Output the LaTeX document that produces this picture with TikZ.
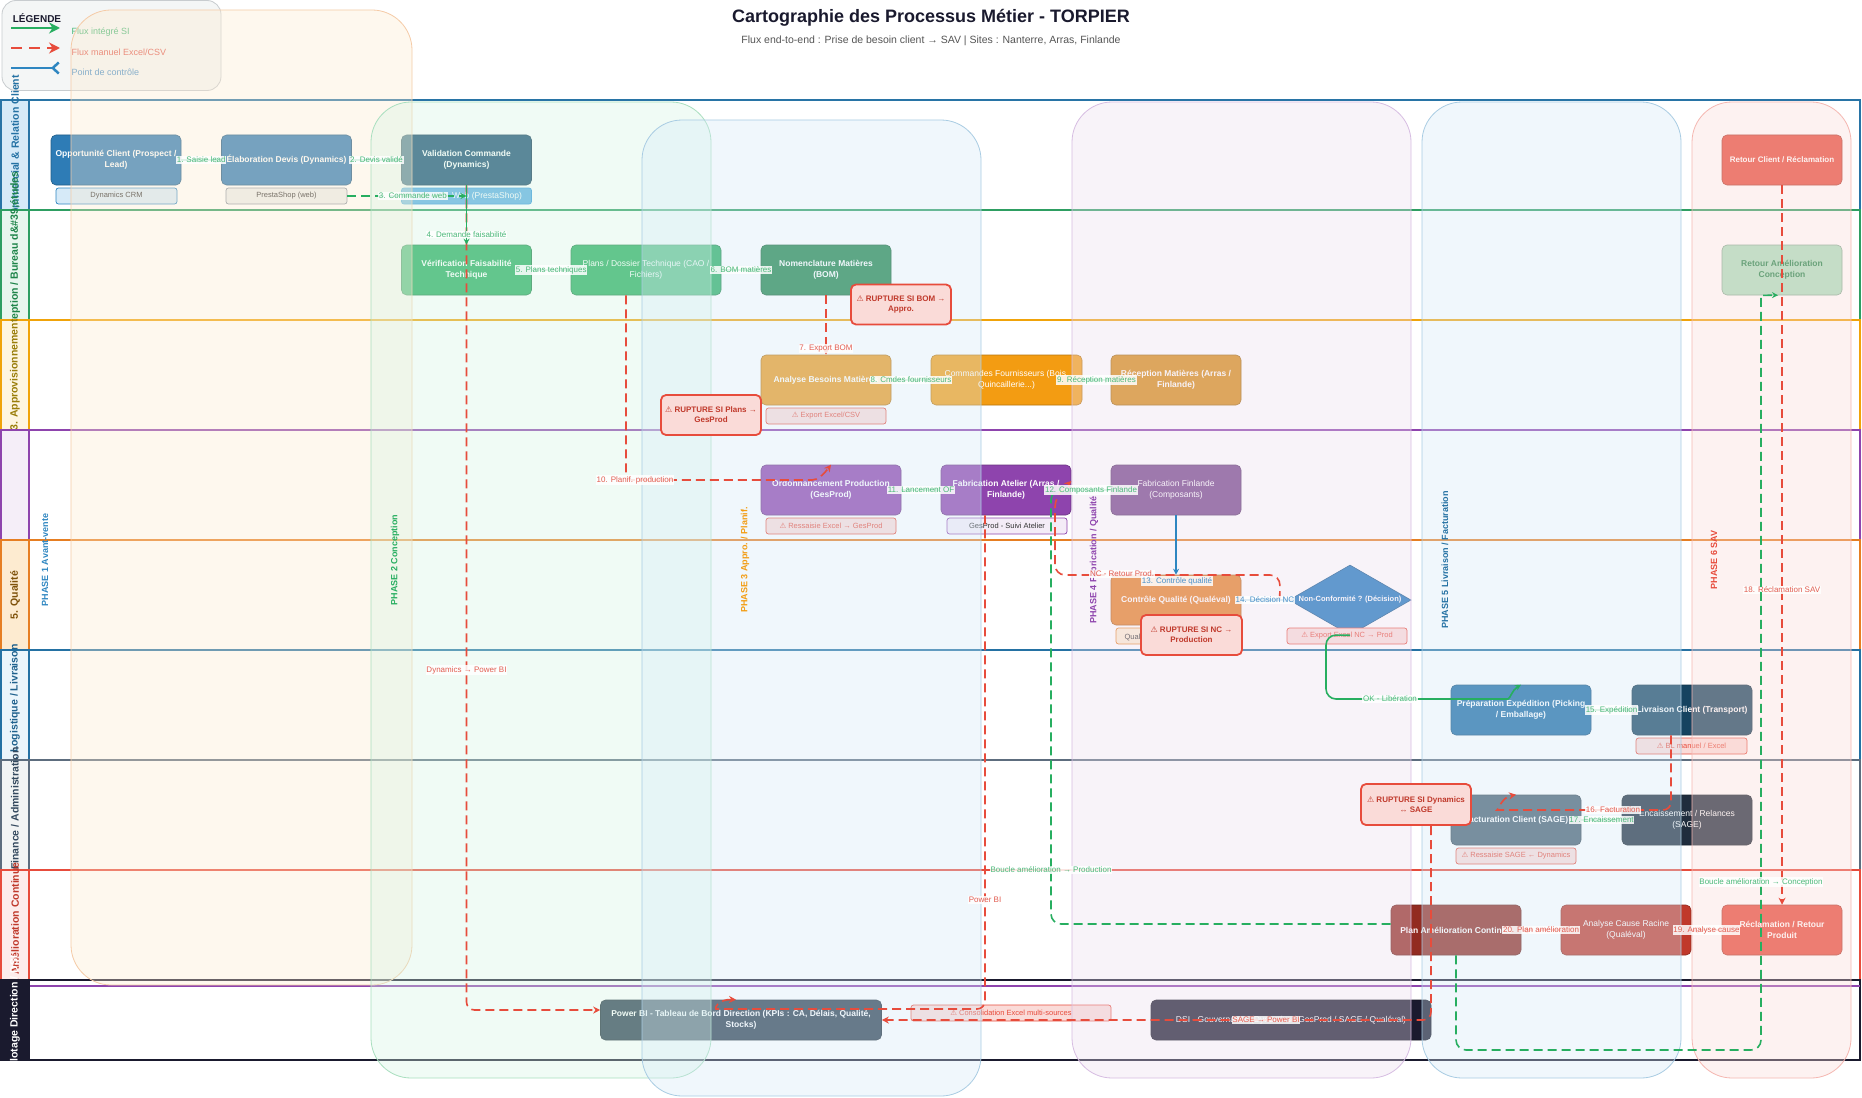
\documentclass[tikz,border=0pt]{standalone}
\usepackage{fontspec}
\setmainfont{Liberation Sans}
\newfontfamily\WarnFont{DejaVu Sans}
\usetikzlibrary{arrows.meta,calc,shapes.geometric}
\newcommand{\WarnSym}{{\WarnFont ⚠}}
\newcommand{\FSnode}{\fontsize{8.5}{10.5}\selectfont\bfseries}
\newcommand{\FSnoder}{\fontsize{8.5}{10.5}\selectfont}
\newcommand{\FSsys}{\fontsize{7.5}{9}\selectfont}
\newcommand{\FSlab}{\fontsize{8}{9.5}\selectfont}
\newcommand{\FSrup}{\fontsize{8}{10}\selectfont\bfseries}
\newcommand{\FSlane}{\fontsize{10.5}{12}\selectfont\bfseries}
\newcommand{\FSphase}{\fontsize{9}{11}\selectfont\bfseries}

\definecolor{cGreen}{HTML}{27AE60}
\definecolor{cRed}{HTML}{E74C3C}
\definecolor{cBlue}{HTML}{2E86C1}
\definecolor{cGreenL}{HTML}{4CB97A}
\definecolor{cRedL}{HTML}{E25D51}
\definecolor{cBlueL}{HTML}{4A90C8}
\definecolor{cDark}{HTML}{1A1A2E}
\definecolor{cGray}{HTML}{555555}
\definecolor{cRupF}{HTML}{FADBD8}
\definecolor{cRupT}{HTML}{C0392B}
\definecolor{cLegF}{HTML}{F4F6F6}
\definecolor{cLegB}{HTML}{C8CCCF}
\definecolor{cTxt}{HTML}{333333}

\definecolor{L1}{HTML}{2874A6}\definecolor{T1}{HTML}{D6EAF8}\definecolor{X1}{HTML}{2471A3}
\definecolor{L2}{HTML}{2E9E62}\definecolor{T2}{HTML}{E8F6EE}\definecolor{X2}{HTML}{1E8449}
\definecolor{L3}{HTML}{F0A30A}\definecolor{T3}{HTML}{FEF5E1}\definecolor{X3}{HTML}{9A7D0A}
\definecolor{L4}{HTML}{8E44AD}\definecolor{T4}{HTML}{F5EEF8}\definecolor{X4}{HTML}{8E44AD}
\definecolor{L5}{HTML}{E67E22}\definecolor{T5}{HTML}{FDEBD0}\definecolor{X5}{HTML}{7E5109}
\definecolor{L6}{HTML}{2471A3}\definecolor{T6}{HTML}{EBF5FB}\definecolor{X6}{HTML}{1F618D}
\definecolor{L7}{HTML}{5D6D7E}\definecolor{T7}{HTML}{F2F4F4}\definecolor{X7}{HTML}{34495E}
\definecolor{L8}{HTML}{E74C3C}\definecolor{T8}{HTML}{FDEDEC}\definecolor{X8}{HTML}{C0392B}
\definecolor{L9}{HTML}{1A1A2E}\definecolor{T9}{HTML}{1A1A2E}\definecolor{X9}{HTML}{FFFFFF}

\definecolor{tP1}{HTML}{FDEBD0}\definecolor{sP1}{HTML}{F5CBA7}
\definecolor{tP2}{HTML}{D5F5E3}\definecolor{sP2}{HTML}{A9DFBF}
\definecolor{tP3}{HTML}{D6EAF8}\definecolor{sP3}{HTML}{A9CCE3}
\definecolor{tP4}{HTML}{EBDEF0}\definecolor{sP4}{HTML}{D7BDE2}
\definecolor{tP5}{HTML}{D6EAF8}\definecolor{sP5}{HTML}{A9CCE3}
\definecolor{tP6}{HTML}{FADBD8}\definecolor{sP6}{HTML}{F5B7B1}

\definecolor{nOpp}{HTML}{2E7CB6}
\definecolor{nVal}{HTML}{1B4F72}
\definecolor{nVer}{HTML}{27AE60}
\definecolor{nPla}{HTML}{27AE60}
\definecolor{nBom}{HTML}{1E8449}
\definecolor{nAna}{HTML}{EB9A1E}
\definecolor{nCmd}{HTML}{F39C12}
\definecolor{nRec}{HTML}{D68910}
\definecolor{nOrd}{HTML}{8E44AD}
\definecolor{nFab}{HTML}{8E44AD}
\definecolor{nFin}{HTML}{76448A}
\definecolor{nCtl}{HTML}{E67E22}
\definecolor{nNC}{HTML}{1A75BC}
\definecolor{nPre}{HTML}{1A6AA5}
\definecolor{nLiv}{HTML}{154360}
\definecolor{nFac}{HTML}{475F70}
\definecolor{nEnc}{HTML}{1F2D3D}
\definecolor{nPlan}{HTML}{922B21}
\definecolor{nCau}{HTML}{C0392B}
\definecolor{nRecl}{HTML}{E74C3C}
\definecolor{nRetC}{HTML}{E74C3C}
\definecolor{nRetA}{HTML}{A9DFBF}
\definecolor{nPbi}{HTML}{2C3E50}
\definecolor{nDsi}{HTML}{1A1A2E}

\definecolor{sbDyn}{HTML}{D6EAF8}
\definecolor{sbPre}{HTML}{EAEDED}
\definecolor{sbPreB}{HTML}{85929E}
\definecolor{sbWeb}{HTML}{5DADE2}
\definecolor{sbWebB}{HTML}{3498DB}
\definecolor{sbGes}{HTML}{F4ECF7}
\definecolor{sbQua}{HTML}{FDEBD0}

\tikzset{
  procbox/.style={rectangle, rounded corners=5pt, inner sep=0pt, fill=#1, draw=#1!75!black, line width=0.6pt},
  ptxt/.style={text=white, font=\FSnode, align=center, inner sep=0pt},
  ptxtr/.style={text=white, font=\FSnoder, align=center, inner sep=0pt},
  ptxts/.style={text=white, font=\fontsize{8}{10}\selectfont\bfseries, align=center, inner sep=0pt},
  ptxtg/.style={text=X2, font=\FSnode, align=center, inner sep=0pt},
  sysbox/.style 2 args={rectangle, rounded corners=2.5pt, minimum width=120pt, minimum height=16pt, inner sep=0pt, fill=#1, draw=#2, line width=0.7pt, font=\FSsys, text=cTxt},
  warnbox/.style={rectangle, rounded corners=2.5pt, minimum width=120pt, minimum height=16pt, inner sep=0pt, fill=cRupF, draw=cRed, line width=0.7pt, font=\FSsys, text=cRed},
  ruptbox/.style={rectangle, rounded corners=5pt, minimum width=100pt, minimum height=40pt, inner sep=1pt, fill=cRupF, draw=cRed, line width=1.8pt, font=\FSrup, text=cRupT, align=center},
  phasebox/.style 2 args={rounded corners=40pt, fill=#1, fill opacity=0.35, draw=#2, line width=0.8pt},
  phlab/.style={rotate=90, font=\FSphase},
  lab/.style={font=\FSlab, fill=white, fill opacity=0.85, text opacity=1, inner sep=0.8pt},
  intflow/.style={draw=cGreen, line width=1.6pt, -{Stealth[length=6pt,width=6pt]}},
  manflow/.style={draw=cRed, line width=1.6pt, dash pattern=on 9pt off 5pt, -{Stealth[length=7pt,width=7pt]}},
  ctrlflow/.style={draw=cBlue, line width=1.6pt, -{Stealth[length=6pt,width=6pt]}},
}

\newcommand{\ProcNode}[8]{%
  \node[procbox=#6, minimum width=#4pt, minimum height=#5pt] (#1) at (#2,#3) {};
  \node[#7] (#1-t) at (#1.center) {#8};}
\newcommand{\LaneRow}[7]{%
  \draw[line width=1.8pt, draw=#4, fill=white] (1,#2) rectangle (1860,#3);
  \draw[line width=1.8pt, draw=#4, fill=#5] (1,#2) rectangle (29,#3);
  \node[rotate=90, font=\FSlane, text=#6] (#1) at (15,{(#2+#3)/2}) {#7};}

\begin{document}
\begin{tikzpicture}[x=1pt,y=-1pt]
\useasboundingbox (0,0) rectangle (1862,1097);
\fill[white] (0,0) rectangle (1862,1097);

% ---------- legend
\node[draw=cLegB, fill=cLegF, rounded corners=14pt, minimum width=219pt, minimum height=90pt, inner sep=0pt, line width=0.8pt] (legbox) at (111.5,45.5) {};
\node[font=\fontsize{10}{12}\selectfont\bfseries, text=cDark] (legtitle) at (37,18) {LÉGENDE};
\coordinate (lgA1) at (11,28); \coordinate (lgB1) at (60,28);
\draw[cGreen, line width=2.5pt, -{Stealth[length=11pt,width=11pt]}] (lgA1) -- (lgB1);
\node[anchor=west, font=\fontsize{9}{11}\selectfont, text=cGreenL] (legt1) at (68,32) {Flux intégré SI};
\coordinate (lgA2) at (11,48); \coordinate (lgB2) at (60,48);
\draw[cRed, line width=2.5pt, dash pattern=on 11pt off 7pt, -{Stealth[length=11pt,width=11pt]}] (lgA2) -- (lgB2);
\node[anchor=west, font=\fontsize{9}{11}\selectfont, text=cRedL] (legt2) at (68,52) {Flux manuel Excel/CSV};
\coordinate (lgA3) at (11,68); \coordinate (lgB3) at (60,68);
\draw[cBlue, line width=2.5pt, -{Straight Barb[reversed,length=6pt,width=11pt]}] (lgA3) -- (lgB3);
\node[anchor=west, font=\fontsize{9}{11}\selectfont, text=cBlueL] (legt3) at (68,72) {Point de contrôle};

% ---------- lanes
\LaneRow{lane1}{100}{210}{L1}{T1}{X1}{1. Commercial \& Relation Client}
\LaneRow{lane2}{210}{320}{L2}{T2}{X2}{2. Conception / Bureau d\&\#39;études}
\LaneRow{lane3}{320}{430}{L3}{T3}{X3}{3. Approvisionnement}
\LaneRow{lane4}{430}{540}{L4}{T4}{X4}{}
\LaneRow{lane5}{540}{650}{L5}{T5}{X5}{5. Qualité}
\LaneRow{lane6}{650}{760}{L6}{T6}{X6}{6. Logistique / Livraison}
\LaneRow{lane7}{760}{870}{L7}{T7}{X7}{7. Finance / Administration}
\LaneRow{lane8}{870}{980}{L8}{T8}{X8}{8. Amélioration Continue}
\LaneRow{lane9}{980}{1060}{L9}{T9}{X9}{9. Pilotage Direction / DSI}
\draw[L4, line width=1.2pt] (30,986) -- (1860,986);

% ---------- process nodes
\ProcNode{opp}{116}{160}{130}{50}{nOpp}{ptxt}{Opportunité Client (Prospect /\\Lead)}
\ProcNode{devis}{286.5}{160}{130}{50}{nOpp}{ptxt}{Élaboration Devis (Dynamics)}
\ProcNode{valid}{466.5}{160}{130}{50}{nVal}{ptxt}{Validation Commande\\(Dynamics)}
\ProcNode{verif}{466.5}{270}{130}{50}{nVer}{ptxt}{Vérification Faisabilité\\Technique}
\ProcNode{plans}{646}{270}{150}{50}{nPla}{ptxtr}{Plans / Dossier Technique (CAO /\\Fichiers)}
\ProcNode{bom}{826}{270}{130}{50}{nBom}{ptxt}{Nomenclature Matières\\(BOM)}
\ProcNode{analyse}{826}{380}{130}{50}{nAna}{ptxt}{Analyse Besoins Matières}
\ProcNode{cmdes}{1006.5}{380}{151}{50}{nCmd}{ptxtr}{Commandes Fournisseurs (Bois,\\Quincaillerie...)}
\ProcNode{recep}{1176}{380}{130}{50}{nRec}{ptxt}{Réception Matières (Arras /\\Finlande)}
\ProcNode{ordo}{831}{490}{140}{50}{nOrd}{ptxt}{Ordonnancement Production\\(GesProd)}
\ProcNode{fab}{1006}{490}{130}{50}{nFab}{ptxt}{Fabrication Atelier (Arras /\\Finlande)}
\ProcNode{fin}{1176}{490}{130}{50}{nFin}{ptxtr}{Fabrication Finlande\\(Composants)}
\ProcNode{ctrl}{1176}{600}{130}{50}{nCtl}{ptxt}{Contrôle Qualité (Qualéval)}
\node[diamond, minimum width=122pt, minimum height=70pt, inner sep=0pt, fill=nNC, draw=nNC!75!black, line width=0.6pt] (nc) at (1350,600) {};
\node[text=white, font=\fontsize{7.5}{9}\selectfont\bfseries] (nc-t) at (nc.center) {Non-Conformité ? (Décision)};
\ProcNode{prep}{1521}{710}{140}{50}{nPre}{ptxt}{Préparation Expédition (Picking\\/ Emballage)}
\ProcNode{livr}{1692}{710}{120}{50}{nLiv}{ptxt}{Livraison Client (Transport)}
\ProcNode{fact}{1516}{820}{130}{50}{nFac}{ptxt}{Facturation Client (SAGE)}
\ProcNode{enc}{1687}{820}{130}{50}{nEnc}{ptxtr}{Encaissement / Relances\\(SAGE)}
\ProcNode{plan}{1456}{930}{130}{50}{nPlan}{ptxt}{Plan Amélioration Continue}
\ProcNode{cause}{1626}{930}{130}{50}{nCau}{ptxtr}{Analyse Cause Racine\\(Qualéval)}
\ProcNode{recl}{1782}{930}{120}{50}{nRecl}{ptxt}{Réclamation / Retour\\Produit}
\ProcNode{retc}{1782}{160}{120}{50}{nRetC}{ptxts}{Retour Client / Réclamation}
\ProcNode{reta}{1782}{270}{120}{50}{nRetA}{ptxtg}{Retour Amélioration\\Conception}
\ProcNode{pbi}{741}{1020}{281}{40}{nPbi}{ptxt}{Power BI - Tableau de Bord Direction (KPIs : CA, Délais, Qualité,\\Stocks)}
\ProcNode{dsi}{1291}{1020}{280}{40}{nDsi}{ptxtr}{DSI - Gouvernance (Dynamics / GesProd / SAGE / Qualéval)}

% ---------- system tags
\node[sysbox={sbDyn}{cBlue}, minimum width=121pt] (s_dyn) at (116.5,196) {Dynamics CRM};
\node[sysbox={sbPre}{sbPreB}, minimum width=121pt] (s_presta) at (286.5,196) {PrestaShop (web)};
\node[sysbox={sbWeb}{sbWebB}, minimum width=130pt] (s_web) at (466.5,196) {};
\node[font=\fontsize{8.5}{10}\selectfont, text=white] (s_web-t) at (487,196) {Web (PrestaShop)};
\node[warnbox] (s_export) at (826,416) {\WarnSym{} Export Excel/CSV};
\node[warnbox, minimum width=130pt] (s_ress) at (831,526) {\WarnSym{} Ressaisie Excel → GesProd};
\node[sysbox={sbGes}{L4}] (s_ges) at (1007,526) {GesProd - Suivi Atelier};
\node[sysbox={sbQua}{L5}] (s_qual) at (1176,636) {};
\node[anchor=west, font=\FSsys, text=cTxt] (s_qual-t) at (1121,637) {Qualéval};
\node[warnbox] (s_ncx) at (1347,636) {\WarnSym{} Export Excel NC → Prod};
\node[warnbox, minimum width=111pt] (s_bl) at (1691.5,746) {\WarnSym{} BL manuel / Excel};
\node[warnbox] (s_sage) at (1516,856) {\WarnSym{} Ressaisie SAGE ← Dynamics};
\node[warnbox, minimum width=200pt] (s_conso) at (1011,1013) {\WarnSym{} Consolidation Excel multi-sources};

% ---------- phases
\draw[phasebox={tP1}{sP1}] (71,10) rectangle (412,985);
\draw[phasebox={tP2}{sP2}] (371,102) rectangle (711,1078);
\draw[phasebox={tP3}{sP3}] (642,120) rectangle (981,1096);
\draw[phasebox={tP4}{sP4}] (1072,102) rectangle (1411,1078);
\draw[phasebox={tP5}{sP5}] (1422,102) rectangle (1681,1078);
\draw[phasebox={tP6}{sP6}] (1692,102) rectangle (1851,1078);
\node[phlab, text=cBlue] (ph1) at (45,560) {PHASE 1 Avant-vente};
\node[phlab, text=cGreen] (ph2) at (395,560) {PHASE 2 Conception};
\node[phlab, text=nCmd] (ph3) at (745,560) {PHASE 3 Appro. / Planif.};
\node[phlab, text=L4] (ph4) at (1094,560) {PHASE 4 Fabrication / Qualité};
\node[phlab, text=L6] (ph5) at (1445,560) {PHASE 5 Livraison / Facturation};
\node[phlab, text=cRed] (ph6) at (1714,560) {PHASE 6 SAV};

% ---------- connectors
\draw[manflow, rounded corners=8pt] (valid.south) -- (466.5,1010) -- ($(pbi.west)+(0,-10)$);
\node[lab, text=cRedL] (e_dyn) at (466.5,670) {Dynamics → Power BI};
\draw[intflow] (opp.east) -- (devis.west) node[lab, text=cGreenL, midway] (e1) {1. Saisie lead};
\draw[intflow] (devis.east) -- (valid.west) node[lab, text=cGreenL, midway] (e2) {2. Devis validé};
\draw[intflow, dash pattern=on 9pt off 5pt] (s_presta.east) -- (s_presta.east -| valid.south) node[lab, text=cGreenL, pos=0.55] (e3) {3. Commande web};
\draw[intflow] (valid.south) -- (verif.north) node[lab, text=cGreenL, pos=0.83] (e4) {4. Demande faisabilité};
\draw[intflow] (verif.east) -- (plans.west) node[lab, text=cGreenL, midway] (e5) {5. Plans techniques};
\draw[intflow] (plans.east) -- (bom.west) node[lab, text=cGreenL, midway] (e6) {6. BOM matières};
\draw[manflow] (bom.south) -- (analyse.north) node[lab, text=cRedL, pos=0.9] (e7) {7. Export BOM};
\draw[intflow] (analyse.east) -- (cmdes.west) node[lab, text=cGreenL, midway] (e8) {8. Cmdes fournisseurs};
\draw[intflow] (cmdes.east) -- (recep.west) node[lab, text=cGreenL, midway] (e9) {9. Réception matières};
\draw[manflow, rounded corners=6pt] ($(plans.south)+(-20,0)$) -- (626,480) -- (806,480) .. controls (818,480) and (824,474) .. (ordo.north);
\node[lab, text=cRedL] (e10) at (635,480) {10. Planif. production};
\draw[intflow] (ordo.east) -- (fab.west) node[lab, text=cGreenL, midway] (e11) {11. Lancement OF};
\draw[intflow, dash pattern=on 9pt off 5pt, rounded corners=10pt] ($(plan.west)+(0,-6)$) -- (1051,924) -- (1051,490) -- (fab.east);
\node[lab, text=cGreenL] (e_bp) at (1051,870) {Boucle amélioration → Production};
\draw[manflow, rounded corners=10pt] ($(nc.west)+(-9,0)$) -- (1280,575) -- (1055,575) -- (1055,497) -- ($(fab.east)+(0,-9)$);
\draw[intflow] (fin.west) -- (fab.east) node[lab, text=cGreenL, midway] (e12) {12. Composants Finlande};
\node[lab, text=cRedL] (e_nc) at (1122,574) {NC - Retour Prod.};
\draw[ctrlflow] (fin.south) -- (ctrl.north);
\node[lab, text=cBlueL] (e13) at (1177,581) {13. Contrôle qualité};
\draw[ctrlflow] (ctrl.east) -- (nc.west) node[lab, text=cBlueL, midway] (e14) {14. Décision NC};
\draw[intflow, rounded corners=10pt] (nc.south) -- (1326,635) -- (1326,699) -- (1498,699) .. controls (1510,699) and (1512,690) .. (prep.north);
\node[lab, text=cGreenL] (e_ok) at (1390,699) {OK - Libération};
\draw[intflow] (prep.east) -- (livr.west) node[lab, text=cGreenL, midway] (e15) {15. Expédition};
\draw[manflow, rounded corners=8pt] ($(livr.south)+(-21,0)$) -- (1671,810) -- (1505,810) .. controls (1498,810) and (1502,797) .. (fact.north);
\node[lab, text=cRedL] (e16) at (1613,810) {16. Facturation};
\draw[intflow] (fact.east) -- (enc.west) node[lab, text=cGreenL, midway] (e17) {17. Encaissement};
\draw[manflow] (retc.south) -- (recl.north);
\node[lab, text=cRedL] (e18) at (1782,590) {18. Réclamation SAV};
\draw[manflow] (recl.west) -- (cause.east) node[lab, text=cRedL, midway] (e19) {19. Analyse cause};
\draw[manflow] (cause.west) -- (plan.east) node[lab, text=cRedL, midway] (e20) {20. Plan amélioration};
\draw[intflow, dash pattern=on 9pt off 5pt, rounded corners=10pt] (plan.south) -- (1456,1050) -- (1761,1050) -- (1761,305) .. controls (1761,296) and (1768,295) .. ($(reta.south)+(-4,0)$);
\node[lab, text=cGreenL] (e_bc) at (1761,882) {Boucle amélioration → Conception};
\draw[manflow, rounded corners=8pt] ($(fab.south)+(-21,0)$) -- (985,1009) -- (724,1009) .. controls (714,1009) and (718,999) .. ($(pbi.north)+(-5,0)$);
\node[lab, text=cRedL] (e_pb) at (985,900) {Power BI};
\coordinate (sagesrc) at (1431,826);
\draw[manflow, rounded corners=8pt] (sagesrc) -- (1431,1020) -- (pbi.east);
\node[lab, text=cRedL] (e_sage) at (1266,1020) {SAGE → Power BI};

% ---------- rupture callouts
\node[ruptbox] (r_bom) at (901,304.5) {\WarnSym{} RUPTURE SI BOM →\\Appro.};
\node[ruptbox] (r_plans) at (711,415) {\WarnSym{} RUPTURE SI Plans →\\GesProd};
\node[ruptbox, minimum width=101pt] (r_nc) at (1191.5,635) {\WarnSym{} RUPTURE SI NC →\\Production};
\node[ruptbox, minimum width=110pt, minimum height=41pt] (r_dyn) at (1416,804.5) {\WarnSym{} RUPTURE SI Dynamics\\↔ SAGE};

% ---------- title
\node[font=\fontsize{18}{22}\selectfont\bfseries, text=cDark] (title) at (931,18) {Cartographie des Processus Métier - TORPIER};
\node[font=\fontsize{10.5}{13}\selectfont, text=cGray] (subtitle) at (931,41) {Flux end-to-end : Prise de besoin client → SAV | Sites : Nanterre, Arras, Finlande};
\end{tikzpicture}
\end{document}
